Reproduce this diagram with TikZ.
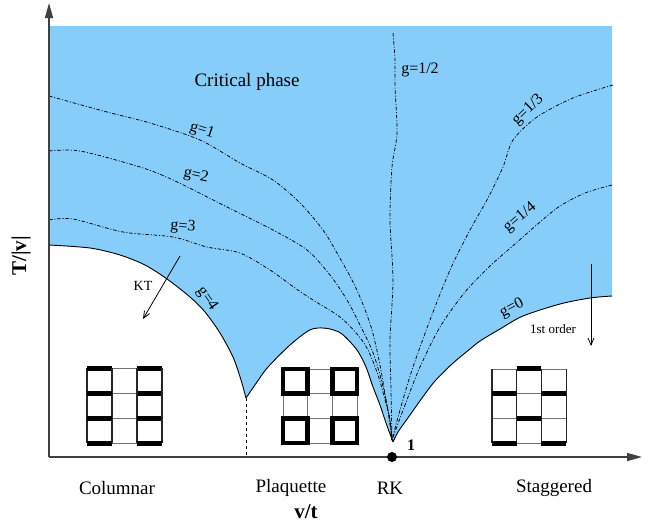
\documentclass[tikz,border=0pt]{standalone}
\usepackage{fontspec}
\setmainfont{Liberation Serif}
\usetikzlibrary{arrows.meta}
\definecolor{critblue}{RGB}{135,205,250}
\begin{document}
\begin{tikzpicture}[x=1pt,y=-1pt,
  gline/.style={dash pattern=on 3.6pt off 1.8pt on 1pt off 1.8pt, line width=0.75pt},
  bound/.style={line width=0.9pt},
  axisline/.style={black!75, line width=1.4pt},
  flowarrow/.style={line width=0.8pt, -{Straight Barb[length=7pt,width=6pt]}},
  biglabel/.style={font=\fontsize{19}{19}\selectfont, inner sep=0pt},
  boldlabel/.style={font=\bfseries\fontsize{21}{21}\selectfont, inner sep=0pt},
  glabel/.style={font=\fontsize{16}{16}\selectfont, inner sep=0pt},
  smalllabel/.style={font=\fontsize{13}{13}\selectfont, inner sep=0pt},
  latgrid/.style={black!55, line width=0.9pt},
  latvert/.style={black!85, line width=1.2pt},
  dimer/.style={line width=5pt},
  plaq/.style={line width=4.5pt}]
\useasboundingbox (0,0) rectangle (659,525);

% critical phase region
\fill[critblue]
  plot[smooth] coordinates {(49,245) (90,248) (120,255) (145,265) (167,279) (190,297) (205,312) (220,333) (233,357) (241,380) (246,398)}
  -- plot[smooth] coordinates {(246,398) (257,382) (268,367) (290,345) (308,331) (318,328) (330,329) (342,334) (357,350) (366,367) (373,387) (380,405) (386,423) (393,442)}
  -- plot[smooth] coordinates {(393,442) (398,432) (410,415) (422,398) (435,381) (452,364) (470,349) (480,341) (500,329) (523,316) (560,304) (590,298) (612,296)}
  -- (612,26) -- (49,26) -- cycle;

% phase boundaries
\draw[bound] plot[smooth] coordinates {(49,245) (90,248) (120,255) (145,265) (167,279) (190,297) (205,312) (220,333) (233,357) (241,380) (246,398)};
\draw[bound] plot[smooth] coordinates {(246,398) (257,382) (268,367) (290,345) (308,331) (318,328) (330,329) (342,334) (357,350) (366,367) (373,387) (380,405) (386,423) (393,442)};
\draw[bound] plot[smooth] coordinates {(393,442) (398,432) (410,415) (422,398) (435,381) (452,364) (470,349) (480,341) (500,329) (523,316) (560,304) (590,298) (612,296)};

% lines of constant g
\draw[gline] plot[smooth] coordinates {(49,96) (107,112) (150,123) (200,140) (240,163) (273,180) (300,203) (323,230) (337,253) (352,280) (362,302) (372,330) (380,365) (386,400) (390,420) (392,440)};
\draw[gline] plot[smooth] coordinates {(49,151) (80,151) (140,167) (173,180) (227,207) (273,230) (307,250) (330,275) (347,300) (360,325) (372,350) (380,375) (387,405) (392,440)};
\draw[gline] plot[smooth] coordinates {(49,220) (73,219) (123,232) (173,237) (207,247) (240,253) (270,270) (295,288) (313,300) (340,317) (357,334) (368,350) (378,375) (385,400) (390,420) (392,440)};
\draw[gline] plot[smooth] coordinates {(393,33) (395,60) (395,87) (397,133) (392,167) (390,220) (393,280) (390,340) (391,390) (392,440)};
\draw[gline] plot[smooth] coordinates {(613,85) (573,98) (537,117) (513,140) (503,167) (488,198) (470,230) (450,270) (430,320) (412,370) (400,410) (392,440)};
\draw[gline] plot[smooth] coordinates {(612,185) (585,193) (560,206) (540,222) (515,244) (490,266) (465,292) (440,327) (420,367) (405,405) (392,440)};

% threshold between columnar and plaquette
\coordinate (cusp) at (246,398);
\coordinate (cuspfoot) at (246,457);
\draw[dashed, line width=0.7pt] (cusp) -- (cuspfoot);

% axes
\coordinate (origin) at (49,457);
\coordinate (ytip) at (49,3);
\coordinate (xtip) at (642,457);
\draw[axisline, -{Triangle[length=15pt,width=8pt]}] (origin) -- (ytip);
\draw[axisline, -{Triangle[length=15pt,width=8pt]}] (origin) -- (xtip);

% RK point
\fill (392,457) circle (5pt);
\node[font=\bfseries\fontsize{16}{16}\selectfont, inner sep=0pt] (one) at (411,445) {1};

% transition arrows
\coordinate (ktA) at (180,256);
\coordinate (ktB) at (143,319);
\draw[flowarrow] (ktA) -- (ktB);
\node[smalllabel, font=\fontsize{14}{14}\selectfont] (kt) at (143,286) {KT};
\coordinate (foA) at (591,264);
\coordinate (foB) at (591,346);
\draw[flowarrow] (foA) -- (foB);
\node[smalllabel] (first) at (553,329) {1st order};

% labels
\node[biglabel] (crit) at (247,82) {Critical phase};
\node[glabel, rotate=-18] (g1) at (202,131) {g=1};
\node[glabel, rotate=-12] (g2) at (196,176) {g=2};
\node[glabel, rotate=-5] (g3) at (183,227) {g=3};
\node[glabel, rotate=-55] (g4) at (207,299) {g=4};
\node[glabel] (g12) at (420,70) {g=1/2};
\node[glabel, rotate=44] (g13) at (528,110) {g=1/3};
\node[glabel, rotate=40] (g14) at (520,218) {g=1/4};
\node[glabel, rotate=28] (g0) at (512,308) {g=0};

\node[boldlabel, rotate=90] (ylab) at (21,256) {T/|v|};
\node[boldlabel] (xlab) at (306,512) {v/t};
\node[biglabel] (colum) at (117,488) {Columnar};
\node[biglabel] (plaqlbl) at (291,488) {Plaquette};
\node[biglabel] (rk) at (390,488) {RK};
\node[biglabel] (stag) at (554,488) {Staggered};

% columnar configuration
\begin{scope}[shift={(87,368)}]
  \foreach \i in {0,1,2,3} {
    \draw[latgrid] (0,\i*25) -- (75,\i*25);
  }
  \foreach \i in {0,1,2,3} {
    \draw[latvert] (\i*25,0) -- (\i*25,75);
    \draw[dimer] (0,\i*25) -- (25,\i*25);
    \draw[dimer] (50,\i*25) -- (75,\i*25);
  }
\end{scope}

% plaquette configuration
\begin{scope}[shift={(283,369)}]
  \foreach \i in {0,1,2,3} {
    \draw[latgrid] (0,\i*24.7) -- (74,\i*24.7);
    \draw[latgrid] (\i*24.7,0) -- (\i*24.7,74);
  }
  \draw[plaq] (0,0) rectangle (24.7,24.7);
  \draw[plaq] (49.4,0) rectangle (74,24.7);
  \draw[plaq] (0,49.4) rectangle (24.7,74);
  \draw[plaq] (49.4,49.4) rectangle (74,74);
\end{scope}

% staggered configuration
\begin{scope}[shift={(492,369)}]
  \foreach \i in {0,1,2,3} {
    \draw[latgrid] (0,\i*24.7) -- (74,\i*24.7);
  }
  \foreach \i in {0,1,2,3} {
    \draw[latvert] (\i*24.7,0) -- (\i*24.7,74);
  }
  \draw[dimer] (24.7,-1) -- (49.4,-1);
  \draw[dimer] (0,24.7) -- (24.7,24.7);
  \draw[dimer] (49.4,24.7) -- (74,24.7);
  \draw[dimer] (24.7,49.4) -- (49.4,49.4);
  \draw[dimer] (0,74) -- (24.7,74);
  \draw[dimer] (49.4,74) -- (74,74);
\end{scope}
\end{tikzpicture}
\end{document}
